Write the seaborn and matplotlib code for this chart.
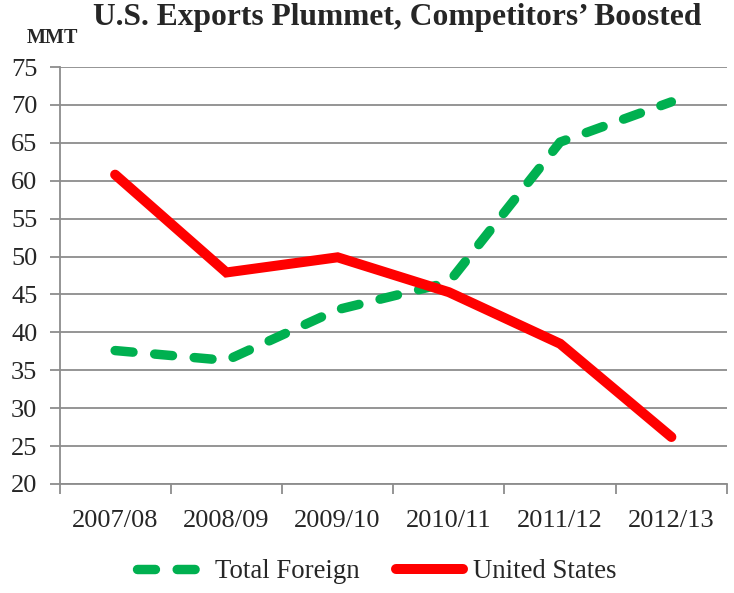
import numpy as np
import pandas as pd
import matplotlib
matplotlib.use("Agg")
import matplotlib.pyplot as plt
import seaborn as sns
from matplotlib.ticker import FixedLocator

# values (MMT)
seasons = ["2007/08", "2008/09", "2009/10", "2010/11", "2011/12", "2012/13"]
total_foreign = [37.6, 36.3, 43.0, 46.6, 65.1, 70.4]
united_states = [60.8, 47.9, 49.9, 45.3, 38.5, 26.2]
y_ticks = list(range(20, 80, 5))

sns.set_theme(style="white")
plt.rcParams["font.family"] = ["Liberation Serif", "DejaVu Serif"]

df = pd.DataFrame({
    "season": seasons * 2,
    "value": total_foreign + united_states,
    "series": ["Total Foreign"] * len(seasons) + ["United States"] * len(seasons),
})

fig = plt.figure(figsize=(7.34, 5.93), dpi=100)
ax = fig.add_axes([59.5 / 734, 1 - 484 / 593, (727 - 59.5) / 734, (484 - 67) / 593])

grid_col = "#8c8c8c"
for y in y_ticks:
    ax.axhline(y, color=grid_col, lw=1.3, zorder=0)

sns.lineplot(data=df[df.series == "Total Foreign"], x="season", y="value", ax=ax,
             color="#00b050", lw=6.8, dashes=False, label="Total Foreign", zorder=3)
sns.lineplot(data=df[df.series == "United States"], x="season", y="value", ax=ax,
             color="#ff0000", lw=7.2, label="United States", zorder=4)

green, red = ax.get_lines()[-2:]
green.set_dashes((1.9, 2.3))
green.set_dash_capstyle("round")
red.set_solid_capstyle("round")
red.set_solid_joinstyle("miter")

ax.set_xlim(-0.5, len(seasons) - 0.5)
ax.set_ylim(20, 75)
ax.set_yticks(y_ticks)
ax.set_xlabel("")
ax.set_ylabel("")
ax.tick_params(axis="y", which="major", length=7, width=1.3, color=grid_col,
               labelsize=19, pad=9, left=True)
ax.tick_params(axis="x", which="major", length=0, labelsize=19, pad=19)
ax.xaxis.set_minor_locator(FixedLocator(np.arange(-0.5, len(seasons), 1.0)))
ax.tick_params(axis="x", which="minor", length=7, width=1.3, color=grid_col,
               direction="out", bottom=True)
for s in ["top", "right"]:
    ax.spines[s].set_visible(False)
for s in ["left", "bottom"]:
    ax.spines[s].set_color(grid_col)
    ax.spines[s].set_linewidth(1.3)

ax.get_legend().remove()
handles, labels = ax.get_legend_handles_labels()
fig.legend(handles, labels, loc="center", bbox_to_anchor=(377 / 734, 1 - 572 / 593),
           ncol=2, frameon=False, fontsize=19.3, handlelength=2.5,
           handletextpad=0.4, columnspacing=1.35)

fig.text(397 / 734, 1 - 18 / 593, "U.S. Exports Plummet, Competitors\u2019 Boosted",
         ha="center", va="center", fontsize=22.7, fontweight="bold")
fig.text(52 / 734, 1 - 38 / 593, "MMT", ha="center", va="center",
         fontsize=14.5, fontweight="bold")

fig.savefig("out.png", dpi=100)
